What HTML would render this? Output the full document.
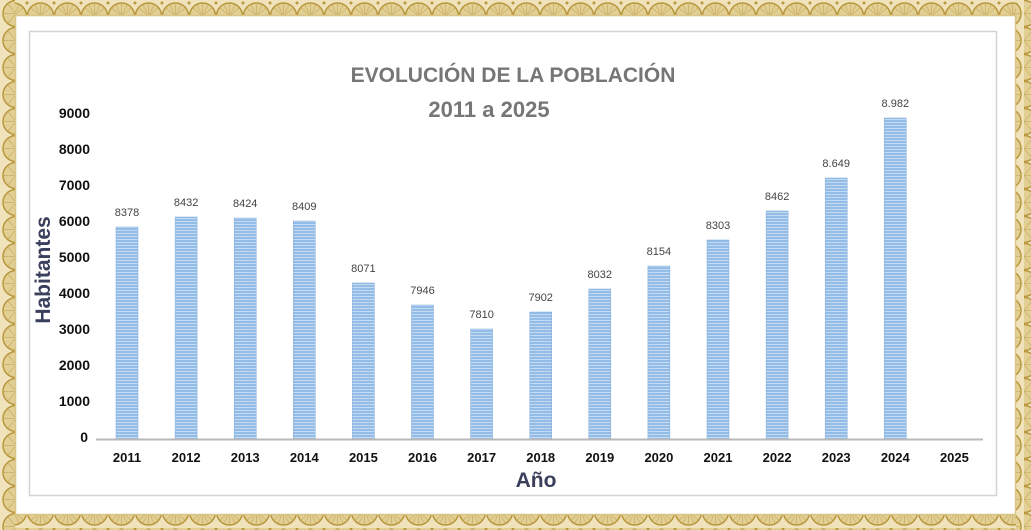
<!DOCTYPE html>
<html><head><meta charset="utf-8"><style>
html,body{margin:0;padding:0;background:#fff;}
svg{display:block;font-family:"Liberation Sans",Arial,sans-serif;}
</style></head><body>
<svg width="1031" height="530" viewBox="0 0 1031 530" xmlns="http://www.w3.org/2000/svg">
<defs>
<pattern id="sc" width="27" height="16" patternUnits="userSpaceOnUse">
<rect width="27" height="16" fill="#f0e3bb"/>
<circle cx="13.5" cy="16" r="13" fill="#e2cf93" stroke="#b8973f" stroke-width="1.5"/>
<path d="M13.5 16 L4 8 M13.5 16 L8 5 M13.5 16 L13.5 4 M13.5 16 L19 5 M13.5 16 L23 8" stroke="#c9ad62" stroke-width="0.7"/>
<circle cx="0" cy="3" r="1.5" fill="#b8973f"/><circle cx="27" cy="3" r="1.5" fill="#b8973f"/>
</pattern>
<pattern id="scv" width="16" height="27" patternUnits="userSpaceOnUse">
<rect width="16" height="27" fill="#f0e3bb"/>
<circle cx="16" cy="13.5" r="13" fill="#e2cf93" stroke="#b8973f" stroke-width="1.5"/>
<path d="M16 13.5 L8 4 M16 13.5 L4 13.5 M16 13.5 L8 23" stroke="#c9ad62" stroke-width="0.7"/>
</pattern>
<pattern id="scv2" width="16" height="27" patternUnits="userSpaceOnUse">
<rect width="16" height="27" fill="#f0e3bb"/>
<circle cx="0" cy="13.5" r="13" fill="#e2cf93" stroke="#b8973f" stroke-width="1.5"/>
<path d="M0 13.5 L8 4 M0 13.5 L12 13.5 M0 13.5 L8 23" stroke="#c9ad62" stroke-width="0.7"/>
</pattern>
<pattern id="scb" width="27" height="16" patternUnits="userSpaceOnUse">
<rect width="27" height="16" fill="#f0e3bb"/>
<circle cx="13.5" cy="0" r="13" fill="#e2cf93" stroke="#b8973f" stroke-width="1.5"/>
<path d="M13.5 0 L4 8 M13.5 0 L8 11 M13.5 0 L13.5 12 M13.5 0 L19 11 M13.5 0 L23 8" stroke="#c9ad62" stroke-width="0.7"/>
</pattern>
<pattern id="bar" width="4" height="3" patternUnits="userSpaceOnUse">
<rect width="4" height="3" fill="#93bce6"/>
<rect y="2" width="4" height="1" fill="#c3daf2"/>
</pattern>
</defs>
<rect x="0" y="0" width="1031" height="530" fill="#fff"/>
<rect x="0" y="0" width="1031" height="15" fill="url(#sc)"/>
<rect x="0" y="515" width="1031" height="15" fill="url(#scb)"/>
<rect x="0" y="0" width="15" height="530" fill="url(#scv)"/>
<rect x="1016" y="0" width="15" height="530" fill="url(#scv2)"/>
<rect x="15.5" y="15.5" width="1000" height="499" fill="#fff" stroke="#d9c58a" stroke-width="1.5"/>
<rect x="29.5" y="31.5" width="967" height="464" fill="#fff" stroke="#d4d4d4" stroke-width="1.5"/>
<text x="513" y="82" text-anchor="middle" font-size="21" font-weight="bold" fill="#767676">EVOLUCIÓN DE LA POBLACIÓN</text>
<text x="489" y="117" text-anchor="middle" font-size="22" font-weight="bold" fill="#767676">2011 a 2025</text>
<g font-size="14" font-weight="bold" fill="#111" text-anchor="end">
<text x="90" y="118">9000</text><text x="90" y="154">8000</text><text x="90" y="190">7000</text>
<text x="90" y="226">6000</text><text x="90" y="262">5000</text><text x="90" y="298">4000</text>
<text x="90" y="334">3000</text><text x="90" y="370">2000</text><text x="90" y="406">1000</text>
<text x="88" y="442">0</text>
</g>
<text transform="translate(50,270) rotate(-90)" text-anchor="middle" font-size="21" font-weight="bold" fill="#3a3f5c">Habitantes</text>
<text x="536" y="487" text-anchor="middle" font-size="21" font-weight="bold" fill="#3a3f5c">Año</text>
<g id="bars"></g>
<line x1="96" y1="439.5" x2="983" y2="439.5" stroke="#b8b8b8" stroke-width="2"/>
<g font-size="13" font-weight="bold" fill="#111" text-anchor="middle" id="years"></g>
<g font-size="11" fill="#444" text-anchor="middle" id="vals"></g>
<script>
var tops=[227,217,218,221,283,305,329,312,289,266,240,211,178,118];
var vals=["8378","8432","8424","8409","8071","7946","7810","7902","8032","8154","8303","8462","8.649","8.982"];
var ns="http://www.w3.org/2000/svg",b=document.getElementById("bars"),y=document.getElementById("years"),v=document.getElementById("vals");
for(var i=0;i<15;i++){var cx=127+i*59.1;
var t=document.createElementNS(ns,"text");t.setAttribute("x",cx);t.setAttribute("y",462);t.textContent=2011+i;y.appendChild(t);
if(i<14){var r=document.createElementNS(ns,"rect");r.setAttribute("x",cx-11);r.setAttribute("y",tops[i]);r.setAttribute("width",22);r.setAttribute("height",439-tops[i]);r.setAttribute("fill","url(#bar)");r.setAttribute("stroke","#7faad8");r.setAttribute("stroke-width","0.5");b.appendChild(r);
var s=document.createElementNS(ns,"text");s.setAttribute("x",cx);s.setAttribute("y",tops[i]-11);s.textContent=vals[i];v.appendChild(s);}}
</script>
</svg>
</body></html>
